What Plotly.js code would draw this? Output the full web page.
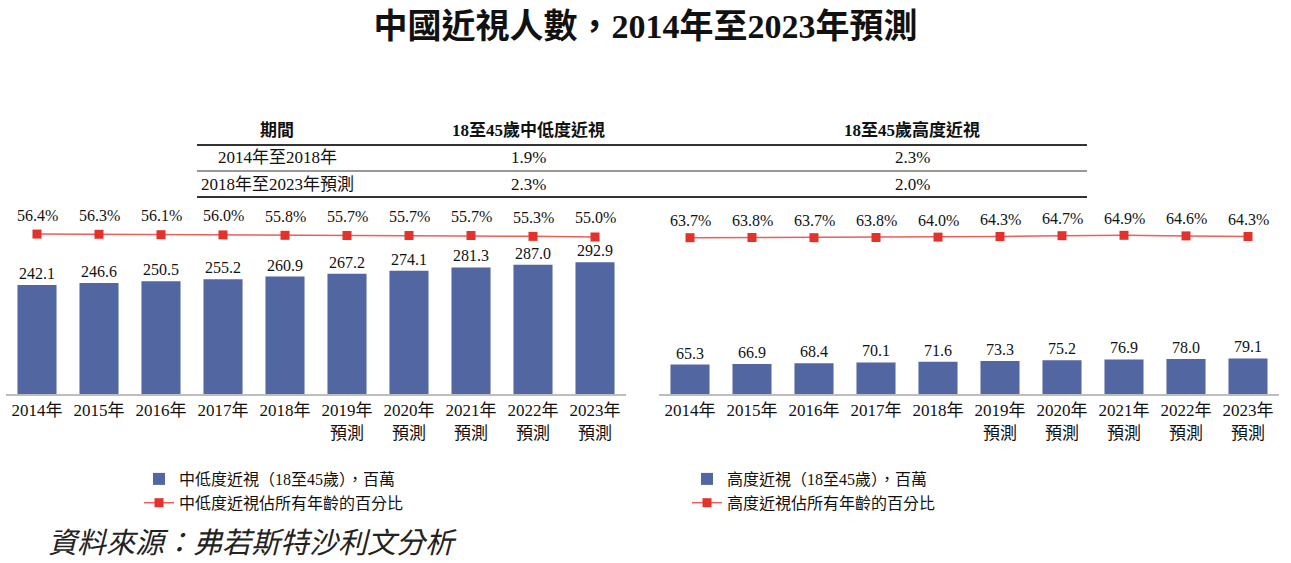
<!DOCTYPE html>
<html>
<head>
<meta charset="utf-8">
<script src="https://cdn.plot.ly/plotly-3.0.1.min.js"></script>
<style>html,body{margin:0;padding:0;background:#fff;}#chart{width:1291px;height:563px;}</style>
</head>
<body>
<div id="chart"></div>
<script>
const years = ['2014','2015','2016','2017','2018','2019','2020','2021','2022','2023'];
const tickLabels = ['2014年','2015年','2016年','2017年','2018年','2019年<br>預測','2020年<br>預測','2021年<br>預測','2022年<br>預測','2023年<br>預測'];
const midLowMyopia = [242.1,246.6,250.5,255.2,260.9,267.2,274.1,281.3,287.0,292.9];
const midLowShare = [56.4,56.3,56.1,56.0,55.8,55.7,55.7,55.7,55.3,55.0];
const highMyopia = [65.3,66.9,68.4,70.1,71.6,73.3,75.2,76.9,78.0,79.1];
const highShare = [63.7,63.8,63.7,63.8,64.0,64.3,64.7,64.9,64.6,64.3];
const tableHeader = ['期間','18至45歲中低度近視','18至45歲高度近視'];
const tablePeriods = ['2014年至2018年','2018年至2023年預測'];
const cagrMidLow = ['1.9%','2.3%'];
const cagrHigh = ['2.3%','2.0%'];
const seriesNames = ['中低度近視（18至45歲），百萬','中低度近視佔所有年齡的百分比','高度近視（18至45歲），百萬','高度近視佔所有年齡的百分比'];
const titleText = '中國近視人數，2014年至2023年預測';
const sourceText = '資料來源：弗若斯特沙利文分析';

const W = 1291, H = 563;
const px = v => v / W;
const py = v => 1 - v / H;
const FONT = '"Liberation Serif", "Times New Roman", "Noto Sans CJK TC", serif';
const BAR = '#5266a1';
const RED = '#e3312c';
const LINE = '#e8605c';

const traces = [
  {type:'bar', x:years, y:midLowMyopia, xaxis:'x', yaxis:'y', name:seriesNames[0],
   marker:{color:BAR}, text:midLowMyopia.map(v=>v.toFixed(1)), textposition:'outside',
   textfont:{size:16, color:'#111', family:FONT}, cliponaxis:false, legend:'legend', hoverinfo:'skip'},
  {type:'scatter', mode:'lines+markers', x:years, y:midLowShare, xaxis:'x', yaxis:'y2', name:seriesNames[1],
   line:{color:LINE, width:1.5}, marker:{symbol:'square', size:9, color:RED}, cliponaxis:false, legend:'legend', hoverinfo:'skip'},
  {type:'bar', x:years, y:highMyopia, xaxis:'x2', yaxis:'y3', name:seriesNames[2],
   marker:{color:BAR}, text:highMyopia.map(v=>v.toFixed(1)), textposition:'outside',
   textfont:{size:16, color:'#111', family:FONT}, cliponaxis:false, legend:'legend2', hoverinfo:'skip'},
  {type:'scatter', mode:'lines+markers', x:years, y:highShare, xaxis:'x2', yaxis:'y4', name:seriesNames[3],
   line:{color:LINE, width:1.5}, marker:{symbol:'square', size:9, color:RED}, cliponaxis:false, legend:'legend2', hoverinfo:'skip'}
];

const annotations = [];
years.forEach((yr,i)=>{
  annotations.push({xref:'x', yref:'y2', x:i, y:midLowShare[i], text:midLowShare[i].toFixed(1)+'%', showarrow:false, yshift:19, font:{size:16, color:'#111', family:FONT}});
  annotations.push({xref:'x2', yref:'y4', x:i, y:highShare[i], text:highShare[i].toFixed(1)+'%', showarrow:false, yshift:17, font:{size:16, color:'#111', family:FONT}});
});
// table
const colX = [277, 528, 912];
const cell = (x, y, t) => ({xref:'paper', yref:'paper', x:px(x), y:py(y), xanchor:'center', yanchor:'middle', text:t, showarrow:false, font:{size:17, color:'#111', family:FONT}});
tableHeader.forEach((t,i)=>annotations.push(cell(colX[i], 130, '<b>'+t+'</b>')));
const rowY = [158, 184];
tablePeriods.forEach((t,i)=>{
  annotations.push(cell(colX[0], rowY[i], t));
  annotations.push(cell(colX[1], rowY[i], cagrMidLow[i]));
  annotations.push(cell(colX[2], rowY[i], cagrHigh[i]));
});
annotations.push({xref:'paper', yref:'paper', x:px(46), y:py(543), xanchor:'left', yanchor:'middle', text:sourceText, showarrow:false, font:{size:29, color:'#222', family:FONT, style:'italic'}});

const shapes = [
  {type:'line', xref:'paper', yref:'paper', x0:px(197), x1:px(1087), y0:py(145), y1:py(145), line:{color:'#333', width:2}},
  {type:'line', xref:'paper', yref:'paper', x0:px(197), x1:px(1087), y0:py(171), y1:py(171), line:{color:'#333', width:1}},
  {type:'line', xref:'paper', yref:'paper', x0:px(197), x1:px(1087), y0:py(197), y1:py(197), line:{color:'#333', width:2}}
];

const xCommon = {type:'category', range:[-0.5, 9.5], autorange:false, tickmode:'array', tickvals:years, ticktext:tickLabels, showline:true, linecolor:'#bdbdbd', linewidth:2,
  ticks:'', showgrid:false, zeroline:false, tickfont:{size:17, color:'#111', family:FONT}, fixedrange:true};
const layout = {
  width:W, height:H, margin:{l:0,r:0,t:0,b:0}, paper_bgcolor:'#fff', plot_bgcolor:'rgba(0,0,0,0)',
  font:{family:FONT, color:'#111'},
  title:{text:'<b>'+titleText+'</b>', x:0.5, xanchor:'center', y:py(26), yanchor:'middle', yref:'paper', font:{size:34, color:'#111', family:FONT}},
  bargap:0.37,
  xaxis:Object.assign({}, xCommon, {domain:[px(6), px(626)], anchor:'y'}),
  xaxis2:Object.assign({}, xCommon, {domain:[px(659), px(1279)], anchor:'y3'}),
  yaxis:{domain:[py(394), py(250)], range:[0,320], visible:false, fixedrange:true},
  yaxis2:{domain:[py(255), py(215)], range:[46.4,65.5], visible:false, anchor:'x', fixedrange:true},
  yaxis3:{domain:[py(394), py(250)], range:[0,320], visible:false, anchor:'x2', fixedrange:true},
  yaxis4:{domain:[py(255), py(215)], range:[55.05,75.05], visible:false, anchor:'x2', fixedrange:true},
  legend:{x:px(139), y:py(462), xanchor:'left', yanchor:'top', bgcolor:'rgba(0,0,0,0)', font:{size:16, color:'#111', family:FONT}, tracegroupgap:0},
  legend2:{x:px(687), y:py(462), xanchor:'left', yanchor:'top', bgcolor:'rgba(0,0,0,0)', font:{size:16, color:'#111', family:FONT}, tracegroupgap:0},
  showlegend:true,
  annotations:annotations, shapes:shapes
};
Plotly.newPlot('chart', traces, layout, {staticPlot:true, displayModeBar:false});
</script>
</body>
</html>
